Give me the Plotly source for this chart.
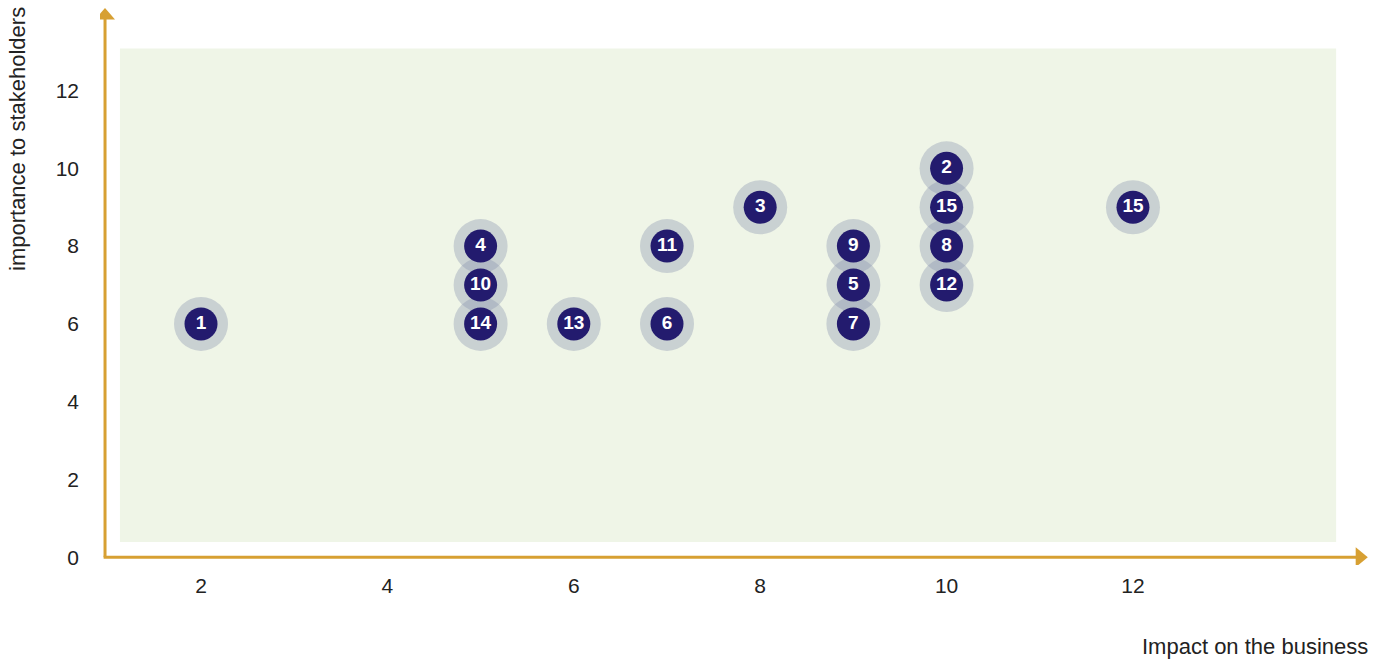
import plotly.graph_objects as go

# ---- data ----
impact = [2, 5, 5, 5, 6, 7, 7, 8, 9, 9, 9, 10, 10, 10, 10, 12]
importance = [6, 8, 7, 6, 6, 8, 6, 9, 8, 7, 6, 10, 9, 8, 7, 9]
labels = ["1", "4", "10", "14", "13", "11", "6", "3", "9", "5", "7", "2", "15", "8", "12", "15"]
x_ticks = [2, 4, 6, 8, 10, 12]
y_ticks = [0, 2, 4, 6, 8, 10, 12]

# ---- style ----
GOLD = "#D7A033"
NAVY = "#231B6E"
HALO = "rgba(140,150,175,0.38)"
BG = "#EFF5E7"
FONT = "Liberation Sans, Arial, sans-serif"
TXT = "#222222"

X_RANGE = [0.916, 14.597]
Y_RANGE = [-0.2, 14.2]

fig = go.Figure()
fig.add_trace(go.Scatter(x=impact, y=importance, mode="markers",
                         marker=dict(size=54, color=HALO, line=dict(width=0)),
                         hoverinfo="skip", showlegend=False, cliponaxis=False))
fig.add_trace(go.Scatter(x=impact, y=importance, mode="markers+text", text=labels,
                         textposition="middle center",
                         textfont=dict(color="white", size=19, family=FONT, weight="bold"),
                         marker=dict(size=33, color=NAVY, line=dict(width=0)),
                         showlegend=False, cliponaxis=False))

shapes = [
    dict(type="rect", xref="x", yref="y", x0=1.13, x1=14.18, y0=0.39, y1=13.08,
         fillcolor=BG, line=dict(width=0), layer="below"),
    # y axis line + arrow
    dict(type="line", xref="x", yref="y", x0=0.97, x1=0.97, y0=0.0, y1=13.85,
         line=dict(color=GOLD, width=3)),
    dict(type="path", xref="x", yref="y",
         path="M 0.863 13.83 L 1.077 13.83 L 0.97 14.12 Z",
         fillcolor=GOLD, line=dict(width=0)),
    # x axis line + arrow
    dict(type="line", xref="x", yref="y", x0=0.955, x1=14.4, y0=0.0, y1=0.0,
         line=dict(color=GOLD, width=3)),
    dict(type="path", xref="x", yref="y",
         path="M 14.39 0.257 L 14.39 -0.257 L 14.52 0 Z",
         fillcolor=GOLD, line=dict(width=0)),
]

fig.update_layout(
    width=1383, height=660,
    margin=dict(l=100, r=8, t=5, b=95),
    paper_bgcolor="white", plot_bgcolor="white",
    font=dict(family=FONT, size=21, color=TXT),
    shapes=shapes,
    xaxis=dict(range=X_RANGE, tickvals=x_ticks, showgrid=False, zeroline=False,
               showline=False, ticks="", ticklabelstandoff=6,
               tickfont=dict(size=21, color=TXT)),
    yaxis=dict(range=Y_RANGE, tickvals=y_ticks, showgrid=False, zeroline=False,
               showline=False, ticks="", ticklabelstandoff=20,
               tickfont=dict(size=21, color=TXT)),
    annotations=[
        dict(text="importance to stakeholders", xref="paper", yref="paper",
             x=-0.0651, y=1.0, xanchor="center", yanchor="top", textangle=-90,
             showarrow=False, font=dict(size=22, color=TXT)),
        dict(text="Impact on the business", xref="paper", yref="paper",
             x=0.996, y=-0.1464, xanchor="right", yanchor="middle",
             showarrow=False, font=dict(size=22, color=TXT)),
    ],
)

fig.write_html("out.html")
